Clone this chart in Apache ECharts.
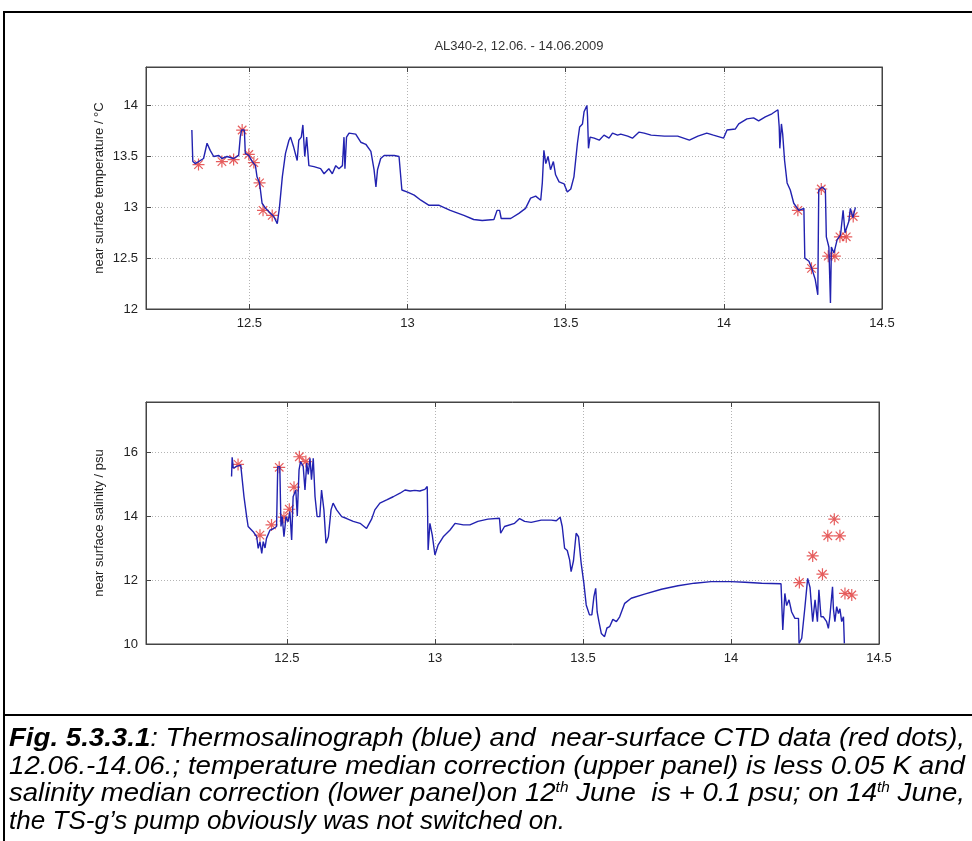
<!DOCTYPE html>
<html>
<head>
<meta charset="utf-8">
<script src="https://cdn.jsdelivr.net/npm/echarts@6/dist/echarts.min.js"></script>
<style>
  body { margin:0; background:#fff; width:972px; height:841px; overflow:hidden; position:relative; }
  #chart { position:absolute; left:0; top:0; width:972px; height:715px; }
  .frame { position:absolute; background:#000; }
  #caption { position:absolute; left:9px; top:724px; width:956px; font-family:"Liberation Sans Narrow","Arial Narrow","Liberation Sans",sans-serif; font-style:italic; font-size:25px; color:#000; }
  #caption div { height:27.6px; line-height:27.6px; white-space:nowrap; }
  #caption span.ln { display:inline-block; transform-origin:0 50%; }
  #caption sup { font-size:14px; line-height:0; }
</style>
</head>
<body>
<div id="chart"></div>
<div class="frame" style="left:3px;top:11px;width:980px;height:2px"></div>
<div class="frame" style="left:3px;top:11px;width:2px;height:840px"></div>
<div class="frame" style="left:3px;top:714px;width:980px;height:2px"></div>
<div id="caption">
  <div><span class="ln"><b>Fig. 5.3.3.1</b>: Thermosalinograph (blue) and &nbsp;near-surface CTD data (red dots),</span></div>
  <div><span class="ln">12.06.-14.06.; temperature median correction (upper panel) is less 0.05 K and</span></div>
  <div><span class="ln">salinity median correction (lower panel)on 12<sup>th</sup> June &nbsp;is + 0.1 psu; on 14<sup>th</sup> June,</span></div>
  <div><span class="ln">the TS-g’s pump obviously was not switched on.</span></div>
</div>
<script>
// thermosalinograph temperature (upper panel)
var tempX = [12.318,12.321,12.329,12.355,12.366,12.376,12.387,12.403,12.413,12.429,12.450,12.466,12.471,12.475,12.484,12.487,12.498,12.509,12.519,12.524,12.532,12.540,12.551,12.561,12.577,12.588,12.595,12.604,12.614,12.625,12.630,12.640,12.651,12.656,12.664,12.669,12.675,12.681,12.688,12.704,12.725,12.736,12.751,12.762,12.773,12.783,12.794,12.799,12.802,12.807,12.815,12.836,12.852,12.868,12.884,12.894,12.900,12.905,12.915,12.926,12.958,12.973,12.979,12.982,13.000,13.021,13.042,13.068,13.100,13.135,13.178,13.209,13.236,13.273,13.283,13.291,13.296,13.326,13.352,13.373,13.389,13.405,13.421,13.426,13.431,13.437,13.444,13.452,13.461,13.468,13.479,13.495,13.505,13.516,13.526,13.537,13.544,13.553,13.558,13.567,13.569,13.572,13.577,13.590,13.606,13.621,13.637,13.648,13.664,13.674,13.696,13.711,13.732,13.748,13.770,13.812,13.854,13.891,13.918,13.946,13.967,13.999,14.010,14.036,14.047,14.073,14.094,14.110,14.131,14.152,14.171,14.175,14.177,14.182,14.186,14.192,14.200,14.210,14.221,14.237,14.253,14.256,14.269,14.279,14.289,14.297,14.300,14.311,14.321,14.324,14.332,14.337,14.340,14.348,14.358,14.369,14.377,14.383,14.395,14.400,14.408,14.416];
var tempY = [13.76,13.45,13.43,13.48,13.63,13.56,13.50,13.51,13.48,13.50,13.48,13.51,13.69,13.76,13.76,13.53,13.51,13.45,13.41,13.30,13.24,13.04,12.99,12.96,12.91,12.84,13.00,13.30,13.53,13.66,13.69,13.59,13.46,13.66,13.69,13.81,13.50,13.69,13.41,13.40,13.38,13.33,13.38,13.33,13.41,13.38,13.41,13.69,13.38,13.69,13.73,13.72,13.64,13.62,13.55,13.37,13.20,13.37,13.48,13.51,13.51,13.50,13.49,13.17,13.15,13.12,13.07,13.02,13.02,12.97,12.92,12.88,12.87,12.88,12.97,12.97,12.89,12.89,12.94,12.99,13.09,13.11,13.07,13.24,13.56,13.43,13.50,13.37,13.45,13.32,13.25,13.23,13.15,13.18,13.30,13.63,13.79,13.82,13.94,14.00,13.89,13.58,13.69,13.68,13.66,13.71,13.68,13.73,13.71,13.72,13.70,13.68,13.74,13.73,13.71,13.70,13.70,13.66,13.70,13.73,13.71,13.68,13.76,13.77,13.82,13.87,13.88,13.85,13.89,13.92,13.96,13.79,13.58,13.82,13.72,13.46,13.24,13.17,13.04,12.97,12.99,12.50,12.47,12.39,12.29,12.14,13.17,13.20,13.17,12.71,12.61,12.06,12.61,12.55,12.68,12.73,12.97,12.75,12.86,12.99,12.90,13.00];
// near-surface CTD temperature (red stars)
var tempCtdX = [12.339,12.413,12.450,12.477,12.498,12.514,12.532,12.543,12.572,14.234,14.277,14.308,14.330,14.351,14.367,14.387,14.409];
var tempCtdY = [13.42,13.45,13.47,13.76,13.52,13.44,13.24,12.97,12.92,12.97,12.40,13.18,12.52,12.52,12.71,12.71,12.91];

// thermosalinograph salinity (lower panel)
var salX = [12.313,12.315,12.319,12.330,12.344,12.349,12.355,12.364,12.369,12.386,12.398,12.403,12.409,12.415,12.420,12.426,12.431,12.443,12.454,12.465,12.469,12.476,12.480,12.484,12.490,12.497,12.504,12.510,12.516,12.521,12.530,12.535,12.541,12.546,12.555,12.561,12.567,12.572,12.578,12.583,12.589,12.595,12.602,12.611,12.617,12.625,12.632,12.640,12.649,12.656,12.668,12.685,12.702,12.724,12.747,12.769,12.786,12.797,12.814,12.837,12.859,12.882,12.899,12.916,12.932,12.949,12.966,12.974,12.977,12.983,12.991,13.000,13.011,13.028,13.051,13.068,13.096,13.118,13.145,13.179,13.218,13.222,13.235,13.269,13.286,13.292,13.303,13.325,13.359,13.393,13.410,13.423,13.430,13.438,13.447,13.455,13.460,13.468,13.477,13.485,13.494,13.503,13.511,13.522,13.530,13.537,13.543,13.548,13.554,13.562,13.568,13.573,13.581,13.590,13.601,13.613,13.624,13.641,13.663,13.708,13.765,13.821,13.877,13.933,14.000,14.047,14.104,14.169,14.175,14.182,14.188,14.196,14.205,14.216,14.228,14.230,14.239,14.250,14.259,14.267,14.276,14.284,14.292,14.297,14.304,14.312,14.323,14.329,14.334,14.343,14.346,14.351,14.357,14.363,14.368,14.374,14.380,14.383];
var salY = [15.23,15.83,15.49,15.55,15.59,15.55,14.60,13.98,13.67,13.51,13.35,12.99,13.20,12.83,13.20,13.00,13.30,13.56,13.60,13.67,15.54,15.54,13.67,13.98,13.35,13.98,13.82,14.14,13.25,14.60,14.81,14.00,15.44,15.70,15.55,14.81,15.65,15.30,15.80,15.13,15.80,14.60,13.98,13.98,14.81,14.19,13.15,13.35,14.19,14.40,14.19,13.98,13.92,13.83,13.77,13.61,13.90,14.19,14.40,14.50,14.60,14.71,14.81,14.78,14.80,14.78,14.83,14.92,12.94,13.77,13.40,12.78,13.10,13.35,13.56,13.77,13.72,13.72,13.83,13.90,13.93,13.46,13.67,13.77,13.92,13.96,13.83,13.80,13.87,13.87,13.85,13.96,13.67,12.99,12.92,12.63,12.26,12.60,13.46,13.35,12.52,11.90,11.22,10.91,10.91,11.48,11.74,11.00,10.70,10.33,10.38,10.23,10.50,10.54,10.77,10.70,10.85,11.27,11.43,11.56,11.71,11.82,11.90,11.95,11.95,11.93,11.90,11.88,10.44,11.58,11.20,11.38,11.00,10.80,10.80,10.02,10.18,11.17,12.05,11.77,10.70,11.38,10.70,11.69,10.85,10.85,10.70,10.49,10.85,11.79,11.10,10.70,11.17,10.95,11.10,10.70,10.85,10.02];
// near-surface CTD salinity (red stars)
var salCtdX = [12.335,12.409,12.448,12.474,12.490,12.508,12.524,12.542,12.564,14.231,14.276,14.309,14.327,14.349,14.368,14.385,14.408];
var salCtdY = [15.61,13.40,13.72,15.52,13.96,14.21,14.90,15.85,15.70,11.92,12.75,12.18,13.38,13.90,13.38,11.58,11.53];

// axes
var xTicks = [12.5, 13, 13.5, 14, 14.5];
var tempRange = [12, 14.38];
var salRange = [10, 17.56];
var tempXRange = [12.173, 14.5];
var salXRange = [12.024, 14.5];

function zip(a, b) {
    var out = [];
    for (var i = 0; i < a.length; i++) out.push([a[i], b[i]]);
    return out;
}

// squeeze caption lines to the box width (no narrow font installed)
var lines = document.querySelectorAll('#caption span.ln');
var widths = [956, 956, 956, 556];
for (var i = 0; i < lines.length; i++) {
    var s = widths[i] / lines[i].getBoundingClientRect().width;
    lines[i].style.transform = 'scaleX(' + s + ')';
}

var starPath = 'path://M0 9L20 9L20 11L0 11Z M9 0L11 0L11 20L9 20Z M3.64 2.22L17.78 16.36L16.36 17.78L2.22 3.64Z M16.36 2.22L17.78 3.64L3.64 17.78L2.22 16.36Z';
var fontFam = '"Liberation Sans", Arial, sans-serif';
var gridLine = { show: true, lineStyle: { color: '#b4b4b4', type: [1, 2], width: 1 } };
var axLine = { show: true, lineStyle: { color: '#444', width: 1 } };
var tick = { show: true, inside: true, length: 5, lineStyle: { color: '#444' } };
var lbl = { color: '#222', fontSize: 13, fontFamily: fontFam, margin: 8 };

function xAx(idx, range, top) {
    return {
        type: 'value', gridIndex: idx, min: range[0], max: range[1],
        position: top ? 'top' : 'bottom',
        axisLine: axLine,
        axisTick: Object.assign({ customValues: xTicks }, tick),
        axisLabel: Object.assign({ show: !top, customValues: xTicks }, lbl),
        splitLine: top ? { show: false } : gridLine
    };
}
function yAx(idx, range, step, right, name) {
    return {
        type: 'value', gridIndex: idx, min: range[0], max: range[1], interval: step,
        position: right ? 'right' : 'left',
        name: right ? '' : name, nameLocation: 'middle', nameGap: 40, nameMoveOverlap: false,
        nameTextStyle: { color: '#222', fontSize: 13, fontFamily: fontFam },
        axisLine: axLine,
        axisTick: tick,
        axisLabel: Object.assign({ show: !right, showMaxLabel: false }, lbl),
        splitLine: right ? { show: false } : gridLine
    };
}

var myChart = echarts.init(document.getElementById('chart'), null, { renderer: 'canvas' });
var option = {
    animation: false,
    backgroundColor: '#fff',
    title: {
        text: 'AL340-2, 12.06. - 14.06.2009',
        left: 514, top: 35, textAlign: 'center',
        textStyle: { color: '#333', fontSize: 13, fontWeight: 'normal', fontFamily: fontFam }
    },
    grid: [
        { left: 146, top: 67, width: 736, height: 242, show: true, borderColor: '#444', borderWidth: 1, backgroundColor: '#fff' },
        { left: 146, top: 402, width: 733, height: 242, show: true, borderColor: '#444', borderWidth: 1, backgroundColor: '#fff' }
    ],
    xAxis: [
        xAx(0, tempXRange, false), xAx(0, tempXRange, true),
        xAx(1, salXRange, false), xAx(1, salXRange, true)
    ],
    yAxis: [
        yAx(0, tempRange, 0.5, false, 'near surface temperature / °C'), yAx(0, tempRange, 0.5, true),
        yAx(1, salRange, 2, false, 'near surface salinity / psu'), yAx(1, salRange, 2, true)
    ],
    series: [
        {
            name: 'TSG temperature', type: 'line', xAxisIndex: 0, yAxisIndex: 0,
            data: zip(tempX, tempY), showSymbol: false,
            lineStyle: { color: '#2222b0', width: 1.4 }
        },
        {
            name: 'CTD temperature', type: 'scatter', xAxisIndex: 0, yAxisIndex: 0,
            data: zip(tempCtdX, tempCtdY), symbol: starPath, symbolSize: 12,
            itemStyle: { color: '#e03434' }
        },
        {
            name: 'TSG salinity', type: 'line', xAxisIndex: 2, yAxisIndex: 2,
            data: zip(salX, salY), showSymbol: false,
            lineStyle: { color: '#2222b0', width: 1.4 }
        },
        {
            name: 'CTD salinity', type: 'scatter', xAxisIndex: 2, yAxisIndex: 2,
            data: zip(salCtdX, salCtdY), symbol: starPath, symbolSize: 12,
            itemStyle: { color: '#e03434' }
        }
    ]
};
myChart.setOption(option);
</script>
</body>
</html>
